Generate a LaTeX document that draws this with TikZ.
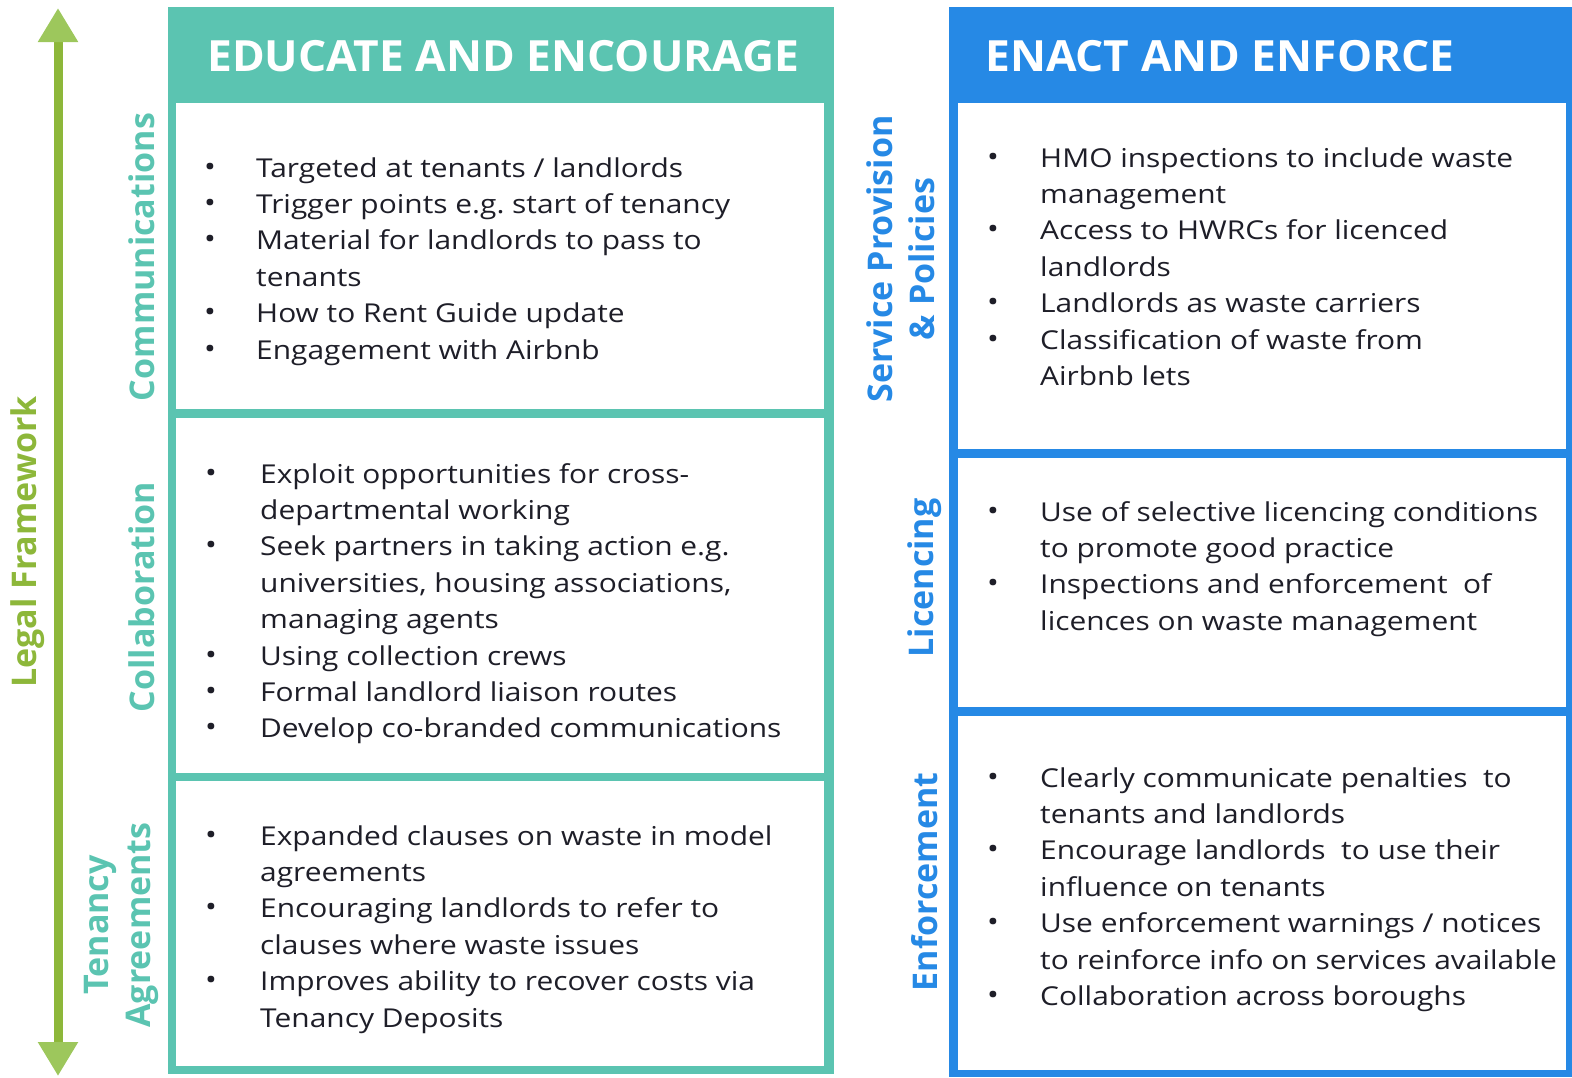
\documentclass[tikz,border=0pt]{standalone}
\usepackage{fontspec}
\setmainfont{Open Sans}
\newfontfamily\bodyfont{Open Sans}[FakeStretch=1.15]
\newfontfamily\headfont{Open Sans}[FakeStretch=1.03]
\usetikzlibrary{arrows.meta}
\definecolor{eduteal}{RGB}{91,196,177}
\definecolor{enfblue}{RGB}{38,137,229}
\definecolor{lawgreen}{RGB}{141,183,58}
\definecolor{lawhead}{RGB}{157,199,92}
\definecolor{bodyink}{RGB}{30,30,40}
\newcommand{\itm}{\raisebox{1pt}{\scalebox{1.05}{\textbullet}}}
\frenchspacing

\begin{document}
\begin{tikzpicture}
      [x = 1pt, y = -1pt,
      header/.style= {
         anchor = base west,
         text = white,
         font = \headfont\fontsize{43}{48}\selectfont\bfseries,
         inner sep = 0pt
      },
      sidelabel/.style= {
         rotate = 90,
         align = center,
         text = #1,
         font = \fontsize{34}{42}\selectfont\bfseries,
         inner sep = 0pt
      },
      bodylist/.style= {
         anchor = base west,
         text = bodyink,
         font = \bodyfont\fontsize{26}{36.4}\selectfont,
         inner sep = 0pt
      },
      lawarrow/.style= {
         draw = lawgreen,
         line width = 9pt,
         {Triangle[width=38pt,length=34pt,color=lawhead]}-{Triangle[width=38pt,length=34pt,color=lawhead]}
      }]

      \useasboundingbox (0, 0) rectangle (1572, 1077);

      \fill[eduteal] (168, 7) rectangle (834, 1074);
      \fill[white] (176, 103) rectangle (824, 409);
      \fill[white] (176, 418) rectangle (824, 773);
      \fill[white] (176, 781) rectangle (824, 1066);

      \fill[enfblue] (949, 7) rectangle (1572, 1077);
      \fill[white] (958, 103) rectangle (1566, 449);
      \fill[white] (958, 458) rectangle (1566, 707);
      \fill[white] (958, 716) rectangle (1566, 1070);

      \coordinate (law-top) at (58, 8);
      \coordinate (law-bottom) at (58, 1076);
      \draw[lawarrow] (law-top) -- (law-bottom);

      \node[header] (edu-head) at (207, 71) {EDUCATE AND ENCOURAGE};
      \node[header] (enf-head) at (985, 71) {ENACT AND ENFORCE};

      \node[sidelabel = lawgreen] (law-label) at (28, 542) {Legal Framework};
      \node[sidelabel = eduteal] (comm-label) at (142, 257) {Communications};
      \node[sidelabel = eduteal] (collab-label) at (142, 597) {Collaboration};
      \node[sidelabel = eduteal] (tenancy-label) at (121, 925) {Tenancy\\Agreements};
      \node[sidelabel = enfblue] (service-label) at (901, 259) {Service Provision\\\& Policies};
      \node[sidelabel = enfblue] (licence-label) at (925, 578) {Licencing};
      \node[sidelabel = enfblue] (enforce-label) at (925, 882) {Enforcement};

      \node[bodylist] (comm-list) at (204, 177) {%
         \begin{tabular}[t]{@{}p{52pt}@{}l@{}}
         \itm & Targeted at tenants / landlords\\
         \itm & Trigger points e.g. start of tenancy\\
         \itm & Material for landlords to pass to\\
              & tenants\\
         \itm & How to Rent Guide update\\
         \itm & Engagement with Airbnb
         \end{tabular}};

      \node[bodylist] (collab-list) at (205, 483) {%
         \begin{tabular}[t]{@{}p{55pt}@{}l@{}}
         \itm & Exploit opportunities for cross-\\
              & departmental working\\
         \itm & Seek partners in taking action e.g.\\
              & universities, housing associations,\\
              & managing agents\\
         \itm & Using collection crews\\
         \itm & Formal landlord liaison routes\\
         \itm & Develop co-branded communications
         \end{tabular}};

      \node[bodylist] (tenancy-list) at (205, 845) {%
         \begin{tabular}[t]{@{}p{55pt}@{}l@{}}
         \itm & Expanded clauses on waste in model\\
              & agreements\\
         \itm & Encouraging landlords to refer to\\
              & clauses where waste issues\\
         \itm & Improves ability to recover costs via\\
              & Tenancy Deposits
         \end{tabular}};

      \node[bodylist] (service-list) at (987, 167) {%
         \begin{tabular}[t]{@{}p{53pt}@{}l@{}}
         \itm & HMO inspections to include waste\\
              & management\\
         \itm & Access to HWRCs for licenced\\
              & landlords\\
         \itm & Landlords as waste carriers\\
         \itm & Classification of waste from\\
              & Airbnb lets
         \end{tabular}};

      \node[bodylist] (licence-list) at (987, 521) {%
         \begin{tabular}[t]{@{}p{53pt}@{}l@{}}
         \itm & Use of selective licencing conditions\\
              & to promote good practice\\
         \itm & Inspections and enforcement~ of\\
              & licences on waste management
         \end{tabular}};

      \node[bodylist] (enforce-list) at (987, 787) {%
         \begin{tabular}[t]{@{}p{53pt}@{}l@{}}
         \itm & Clearly communicate penalties~ to\\
              & tenants and landlords\\
         \itm & Encourage landlords~ to use their\\
              & influence on tenants\\
         \itm & Use enforcement warnings / notices\\
              & to reinforce info on services available\\
         \itm & Collaboration across boroughs
         \end{tabular}};

   \end{tikzpicture}
\end{document}
